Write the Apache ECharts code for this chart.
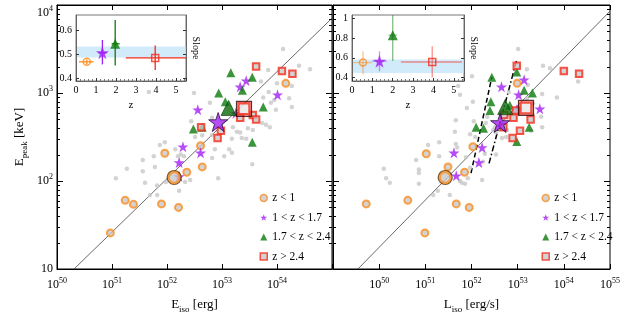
<!DOCTYPE html>
<html><head><meta charset="utf-8">
<script src="https://cdn.jsdelivr.net/npm/echarts@6/dist/echarts.min.js"></script>
<style>html,body{margin:0;padding:0;background:#fff}#c{width:628px;height:314px}</style>
</head><body><div id="c"></div>
<script>
// ---- data (log10 units: [log10 x, log10 Epeak]) ----
const grayEiso = [[51.07,2.03],[51.27,2.14],[51.56,2.24],[51.56,2.11],[51.60,1.98],[51.69,1.84],[51.76,2.28],[51.78,2.16],[51.82,1.95],[51.82,1.84],[51.87,2.41],[51.96,2.44],[51.98,1.99],[52.20,2.28],[52.31,2.28],[52.22,1.89],[52.33,1.99],[52.42,2.01],[52.64,2.52],[52.82,2.52],[52.82,2.26],[52.87,2.36],[52.93,2.03],[53.04,2.28],[53.13,2.36],[53.18,2.32],[53.33,2.55],[53.36,2.49],[53.55,2.19],[51.67,3.01],[52.49,3.00],[52.78,2.89],[52.44,2.68],[53.84,3.26],[54.40,3.31],[54.60,3.27],[54.11,3.50],[53.71,3.13],[54.00,3.11],[53.85,3.01],[54.27,3.08],[54.22,2.94],[53.98,2.81],[53.89,2.89],[53.75,2.95],[54.27,2.84],[53.20,2.61],[53.27,2.56],[53.44,2.48],[53.18,2.48],[53.80,2.64],[53.73,2.66],[53.87,2.61],[53.47,2.60],[53.56,2.58],[52.51,2.50],[52.15,2.36],[53.95,2.92],[52.82,2.72],[52.25,2.30]];
const orangeEiso = [[51.96,2.315],[52.61,2.40],[52.36,2.10],[52.64,2.16],[51.24,1.78],[51.39,1.735],[51.90,1.74],[52.21,1.70],[50.97,1.41],[54.16,3.11]];
const purpleEiso = [[52.29,2.39],[52.61,2.32],[52.22,2.21],[52.22,2.05],[52.56,2.81],[53.33,3.07],[53.44,3.14],[54.01,2.98],[53.25,2.77]];
const greenEiso = [[53.16,3.23],[53.55,3.18],[52.94,3.00],[53.37,3.03],[53.06,2.90],[53.75,2.84],[52.48,2.59],[52.64,2.61],[53.55,2.44]];
const redEiso = [[53.62,3.30],[54.09,3.25],[54.28,3.22],[52.62,2.61],[53.33,2.72],[53.56,2.75],[53.62,2.70],[52.98,2.57],[52.92,2.49]];
const bigEiso = { orange:[52.13,2.04], purple:[52.93,2.67], green:[53.12,2.83], red:[53.40,2.82] };
const fitEiso = [[50.31,1],[55,3.85]];

const grayLiso = [[51.64,2.56],[51.97,2.53],[52.08,2.50],[51.06,2.41],[51.30,2.44],[51.66,2.42],[51.69,2.38],[51.30,2.28],[50.80,2.24],[51.88,2.27],[50.86,2.13],[50.86,2.09],[50.10,2.14],[50.15,2.03],[50.23,1.98],[50.86,1.97],[51.17,1.84],[51.27,1.89],[51.53,1.84],[51.75,2.00],[51.79,1.98],[51.86,1.97],[51.92,2.03],[51.97,2.15],[52.23,2.01],[52.53,2.30],[52.66,2.49],[52.75,2.50],[52.53,2.55],[52.29,2.31],[52.25,2.22],[53.01,3.50],[53.55,3.31],[53.70,3.28],[54.31,3.13],[53.85,2.95],[53.53,2.99],[53.33,2.88],[53.33,2.75],[53.51,2.73],[53.53,2.61],[53.29,2.57],[52.77,2.58],[52.51,2.61],[52.34,2.73],[52.31,2.66],[52.05,2.68],[52.03,2.90],[51.66,2.69],[52.01,3.19],[51.71,3.08],[51.75,2.98],[51.90,2.83],[52.81,3.01],[53.20,2.94],[53.22,3.09],[53.20,3.27],[52.47,2.58]];
const orangeLiso = [[51.02,2.31],[51.49,2.16],[51.85,2.10],[52.03,2.39],[49.72,1.74],[50.62,1.78],[51.67,1.74],[51.95,1.70],[50.99,1.41],[52.99,3.11]];
const purpleLiso = [[51.62,2.32],[52.23,2.38],[52.16,2.21],[51.67,2.06],[52.65,3.07],[53.14,3.15],[53.02,2.98],[53.48,2.82],[52.98,2.81]];
const greenLiso = [[52.98,3.24],[52.44,3.18],[53.14,3.03],[53.32,3.00],[52.42,2.90],[52.40,2.80],[52.83,2.86],[52.10,2.61],[52.26,2.60],[53.25,2.61],[52.98,2.45]];
const redLiso = [[52.98,3.31],[54.00,3.25],[54.33,3.22],[52.96,2.80],[52.71,2.75],[52.91,2.72],[53.28,2.70],[53.05,2.57],[52.89,2.49],[52.69,2.61]];
const bigLiso = { orange:[51.43,2.04], purple:[52.62,2.66], green:[52.73,2.84], red:[53.18,2.83] };
const fitLiso = [[49.54,1],[55,3.93]];
const dashLiso = [[51.99,2.09],[52.44,3.18]];
const dashDotLiso = [[52.38,2.20],[52.98,3.375]];

// insets: slope vs redshift
const slopeLeftZ = [0.54,1.32,1.96,3.96];
const slopeLeftS = [0.47,0.508,0.545,0.486];
const slopeLeftZerr = [[0.15,0.87],[1.12,1.54],[1.78,2.18],[2.49,5.5]];
const slopeLeftSerr = [[0.46,0.48],[0.459,0.561],[0.455,0.644],[0.436,0.538]];
const slopeLeftBand = [0.488,0.534];
const slopeRightZ = [0.54,1.35,2.0,3.94];
const slopeRightS = [0.552,0.566,0.83,0.558];
const slopeRightZerr = [[0.05,0.97],[1.0,1.7],[1.8,2.2],[2.4,5.4]];
const slopeRightSerr = [[0.434,0.667],[0.464,0.667],[0.569,1.1],[0.40,0.718]];
const slopeRightBand = [0.447,0.583];

const legendNames = ['z < 1','1 < z < 1.7','1.7 < z < 2.4','z > 2.4'];

// ---- styling ----
const FONT = 'Liberation Serif';
const C = {orange:'#fb8c1e', purple:'#a21ff2', green:'#0b7a0b', red:'#f52a1a', gray:'#c8c8c8'};
const STAR = 'path://M50,0L61.8,35.1L98.5,35.1L68.8,56.8L80.1,91.9L50,70.2L19.9,91.9L31.2,56.8L1.5,35.1L38.2,35.1Z';
const pw = a => a.map(p => [Math.pow(10,p[0]), Math.pow(10,p[1])]);
const rich = {
  b:{fontFamily:FONT,fontSize:12,lineHeight:16,color:'#000'},
  s:{fontFamily:FONT,fontSize:8,lineHeight:9,verticalAlign:'top',color:'#000'}
};
const expLab = v => { const e = Math.round(Math.log10(v)); return e===1 ? '{b|10}' : '{b|10}{s|'+e+'}'; };

// y tick positions (axis decoration)
const yTicks = [];
for (let e=1;e<=4;e++){ yTicks.push([Math.pow(10,e),1]); if(e<4) for(let k=2;k<=9;k++) yTicks.push([k*Math.pow(10,e),0]); }

function tickRender(params, api){
  const cs = params.coordSys;
  const y = Math.round(api.coord([api.value(0), api.value(1)])[1]) + 0.5;
  const len = api.value(2) ? 6 : 3;
  const st = {stroke:'#000', lineWidth:1};
  return {type:'group', children:[
    {type:'line', shape:{x1:cs.x, y1:y, x2:cs.x+len, y2:y}, style:st},
    {type:'line', shape:{x1:cs.x+cs.width, y1:y, x2:cs.x+cs.width-len, y2:y}, style:st}
  ]};
}

function panelSeries(xi, yi, d){
  const base = {xAxisIndex:xi, yAxisIndex:yi, silent:true};
  const s = [];
  s.push(Object.assign({type:'custom', name:'ticks', z:3, data:yTicks.map(t=>[1e52,t[0],t[1]]), encode:{x:0,y:1}, renderItem:tickRender}, base));
  s.push(Object.assign({type:'line', name:'fit', z:2, symbol:'none', data:pw(d.fit), lineStyle:{color:'#444',width:0.8}}, base));
  (d.extra||[]).forEach(ex => s.push(Object.assign({type:'line', name:'bound', z:2, symbol:'none', data:pw(ex.data), lineStyle:{color:'#000',width:1.5,type:ex.dash}}, base)));
  s.push(Object.assign({type:'scatter', name:'all', z:2, symbol:'circle', symbolSize:4.5, data:pw(d.gray), itemStyle:{color:C.gray}}, base));
  s.push(Object.assign({type:'scatter', name:legendNames[0], z:2, symbol:'circle', symbolSize:7, data:pw(d.orange), itemStyle:{color:C.gray, borderColor:C.orange, borderWidth:2}}, base));
  s.push(Object.assign({type:'scatter', name:legendNames[1], z:2, symbol:STAR, symbolSize:11, data:pw(d.purple), itemStyle:{color:C.purple}}, base));
  s.push(Object.assign({type:'scatter', name:legendNames[2], z:2, symbol:'triangle', symbolSize:9, data:pw(d.green), itemStyle:{color:C.green}}, base));
  s.push(Object.assign({type:'scatter', name:legendNames[3], z:2, symbol:'rect', symbolSize:6.5, data:pw(d.red), itemStyle:{color:C.gray, borderColor:C.red, borderWidth:2}}, base));
  // highlighted large markers
  s.push(Object.assign({type:'scatter', name:'bigO1', z:2.5, symbol:'circle', symbolSize:11, data:pw([d.big.orange]), itemStyle:{color:C.gray, borderColor:C.orange, borderWidth:2.5}}, base));
  s.push(Object.assign({type:'scatter', name:'bigO2', z:2.5, symbol:'circle', symbolSize:14, data:pw([d.big.orange]), itemStyle:{color:'transparent', borderColor:'#5a3200', borderWidth:1.2}}, base));
  s.push(Object.assign({type:'scatter', name:'bigG', z:2.5, symbol:'triangle', symbolSize:15, data:pw([d.big.green]), itemStyle:{color:'#0a6a0a', borderColor:'#053805', borderWidth:0.8}}, base));
  s.push(Object.assign({type:'scatter', name:'bigR1', z:2.5, symbol:'rect', symbolSize:11, data:pw([d.big.red]), itemStyle:{color:'#e6e6e6', borderColor:C.red, borderWidth:2.5}}, base));
  s.push(Object.assign({type:'scatter', name:'bigR2', z:2.5, symbol:'rect', symbolSize:15, data:pw([d.big.red]), itemStyle:{color:'transparent', borderColor:'#300', borderWidth:1.2}}, base));
  s.push(Object.assign({type:'scatter', name:'bigP', z:2.5, symbol:STAR, symbolSize:19, data:pw([d.big.purple]), itemStyle:{color:C.purple, borderColor:'#2a1040', borderWidth:1}}, base));
  return s;
}

const insetColors = [C.orange, C.purple, C.green, C.red];
function insetSeries(xi, yi, Z, S, Zerr, Serr, band, alpha){
  const base = {xAxisIndex:xi, yAxisIndex:yi, silent:true};
  const s = [];
  s.push(Object.assign({type:'custom', name:'band', z:4, data:[[0,band[0],5.5,band[1]]], encode:{x:[0,2],y:[1,3]},
    renderItem:(params, api)=>{
      const a = api.coord([api.value(0), api.value(3)]), b = api.coord([api.value(2), api.value(1)]);
      const cs = params.coordSys;
      const x0 = Math.max(a[0], cs.x+0.5), x1 = Math.min(b[0], cs.x+cs.width-0.5);
      return {type:'rect', shape:{x:x0, y:a[1], width:x1-x0, height:b[1]-a[1]}, style:{fill:'#d2ebfb'}};
    }}, base));
  s.push(Object.assign({type:'custom', name:'err', z:5, data:Z.map((z,i)=>[z,S[i],Zerr[i][0],Zerr[i][1],Serr[i][0],Serr[i][1]]), encode:{x:0,y:1},
    renderItem:(params, api)=>{
      const cs = params.coordSys; const c = insetColors[params.dataIndex];
      const a = api.coord([api.value(2), api.value(1)]), b = api.coord([api.value(3), api.value(1)]);
      const p = api.coord([api.value(0), api.value(4)]), q = api.coord([api.value(0), api.value(5)]);
      const st = {stroke:c, lineWidth:1.3, opacity:alpha};
      return {type:'group', children:[
        {type:'line', shape:{x1:Math.max(a[0],cs.x), y1:a[1], x2:Math.min(b[0],cs.x+cs.width), y2:b[1]}, style:st},
        {type:'line', shape:{x1:p[0], y1:Math.min(p[1],cs.y+cs.height), x2:q[0], y2:Math.max(q[1],cs.y)}, style:st}
      ]};
    }}, base));
  const pt = i => [[Z[i], S[i]]];
  s.push(Object.assign({type:'scatter', name:'iO', z:6, symbol:'circle', symbolSize:7, data:pt(0), itemStyle:{color:'rgba(255,255,255,0)', borderColor:C.orange, borderWidth:1.5}}, base));
  s.push(Object.assign({type:'scatter', name:'iP', z:6, symbol:STAR, symbolSize:13, data:pt(1), itemStyle:{color:C.purple}}, base));
  s.push(Object.assign({type:'scatter', name:'iG', z:6, symbol:'triangle', symbolSize:10, data:pt(2), itemStyle:{color:C.green}}, base));
  s.push(Object.assign({type:'scatter', name:'iR', z:6, symbol:'rect', symbolSize:7, data:pt(3), itemStyle:{color:'rgba(255,255,255,0)', borderColor:C.red, borderWidth:1.5}}, base));
  return s;
}

const axisLine = {show:true, lineStyle:{color:'#000', width:1}};
const nameRich = {sub:{fontFamily:FONT, fontSize:9, lineHeight:9, verticalAlign:'bottom', color:'#000'}};
const nameStyle = {fontFamily:FONT, fontSize:13, lineHeight:18, color:'#000', rich:nameRich};
const insetLab = {fontFamily:FONT, fontSize:10, color:'#000'};

function mainX(gi, min, pos, labels, name){
  const lo = Math.round(Math.log10(min));
  return {type:'log', gridIndex:gi, min:min, max:1e55, logBase:10, position:pos, axisLine:axisLine,
    splitLine:{show:false}, axisTick:{show:true, inside:true, length:5, lineStyle:{color:'#000'}},
    axisLabel:{show:labels, margin:8, rich:rich,
      formatter:v=>{ const e = Math.round(Math.log10(v)); if ((gi===1 && e===lo) || (gi===0 && e===55)) return ''; return expLab(v); }},
    name:name||'', nameLocation:'middle', nameGap:23, nameTextStyle:nameStyle};
}
function insetY(gi, min, max, vals, pos, fmt){
  return {type:'value', gridIndex:gi, min:min, max:max, position:pos, z:7, axisLine:{show:true, lineStyle:{color:'#666'}},
    splitLine:{show:false}, axisTick:{show:true, inside:true, length:3, customValues:vals, lineStyle:{color:'#333'}},
    axisLabel:{show:pos==='left', margin:4, customValues:vals, formatter:fmt, textStyle:insetLab},
    name:pos==='right'?'Slope':'', nameLocation:'middle', nameRotate:-90, nameGap:5, nameTextStyle:{fontFamily:FONT, fontSize:10, color:'#000'}};
}
function insetX(gi){
  return {type:'value', gridIndex:gi, min:0, max:5.5, interval:1, z:7, axisLine:{show:true, lineStyle:{color:'#666'}},
    splitLine:{show:false}, axisTick:{show:true, inside:true, length:3, lineStyle:{color:'#333'}},
    minorTick:{show:true, splitNumber:5, length:2, lineStyle:{color:'#777'}},
    axisLabel:{margin:4, showMaxLabel:false, fontFamily:FONT, fontSize:10, color:'#000'},
    name:'z', nameLocation:'middle', nameGap:19, nameTextStyle:{fontFamily:FONT, fontSize:11, color:'#000'}};
}

const legendBase = {orient:'vertical', top:187, itemGap:7.5, itemWidth:7, itemHeight:7, selectedMode:false,
  itemStyle:{borderWidth:1.5},
  textStyle:{fontFamily:FONT, fontSize:11.5, color:'#000'}, data:legendNames, z:8};

const gridBase = {show:true, borderWidth:1, outerBoundsMode:'none', containLabel:false};
const option = {
  animation:false,
  backgroundColor:'#fff',
  grid:[
    Object.assign({left:57, top:5, width:275, height:264, borderColor:'#000', backgroundColor:'transparent'}, gridBase),
    Object.assign({left:333, top:5, width:277, height:264, borderColor:'#000', backgroundColor:'transparent'}, gridBase),
    Object.assign({left:76, top:15, width:110, height:66, borderColor:'#777', backgroundColor:'#fff', z:3}, gridBase),
    Object.assign({left:352, top:15, width:112, height:66, borderColor:'#777', backgroundColor:'#fff', z:3}, gridBase)
  ],
  legend:[Object.assign({left:254.5}, legendBase), Object.assign({left:536.5}, legendBase)],
  xAxis:[
    mainX(0, 1e50, 'bottom', true, 'E{sub|iso} [erg]'),
    mainX(0, 1e50, 'top', false),
    mainX(1, 1e49, 'bottom', true, 'L{sub|iso} [erg/s]'),
    mainX(1, 1e49, 'top', false),
    insetX(2), insetX(3)
  ],
  yAxis:[
    {type:'log', gridIndex:0, min:10, max:1e4, logBase:10, axisLine:axisLine, splitLine:{show:false}, axisTick:{show:false},
      axisLabel:{margin:4, rich:rich, formatter:expLab, verticalAlignMaxLabel:'top'},
      name:'E{sub|peak} [keV]', nameLocation:'middle', nameGap:28, nameTextStyle:nameStyle},
    {type:'log', gridIndex:1, min:10, max:1e4, logBase:10, axisLine:axisLine, splitLine:{show:false}, axisTick:{show:false}, axisLabel:{show:false}},
    insetY(2, 0.39, 0.665, [0.4,0.5,0.6], 'left', v=>v.toFixed(1)),
    insetY(2, 0.39, 0.665, [0.4,0.5,0.6], 'right', v=>v.toFixed(1)),
    insetY(3, 0.365, 1.035, [0.4,0.6,0.8,1], 'left', v=>v===1?'1':v.toFixed(1)),
    insetY(3, 0.365, 1.035, [0.4,0.6,0.8,1], 'right', v=>v.toFixed(1))
  ],
  series:[].concat(
    panelSeries(0, 0, {gray:grayEiso, orange:orangeEiso, purple:purpleEiso, green:greenEiso, red:redEiso, big:bigEiso, fit:fitEiso}),
    panelSeries(2, 1, {gray:grayLiso, orange:orangeLiso, purple:purpleLiso, green:greenLiso, red:redLiso, big:bigLiso, fit:fitLiso,
      extra:[{data:dashLiso, dash:[5,3]}, {data:dashDotLiso, dash:[6,2.5,1.5,2.5]}]}),
    insetSeries(4, 2, slopeLeftZ, slopeLeftS, slopeLeftZerr, slopeLeftSerr, slopeLeftBand, 1),
    insetSeries(5, 4, slopeRightZ, slopeRightS, slopeRightZerr, slopeRightSerr, slopeRightBand, 0.5)
  )
};
const chart = echarts.init(document.getElementById('c'), null, {renderer:'canvas'});
chart.setOption(option);
</script>
</body></html>
